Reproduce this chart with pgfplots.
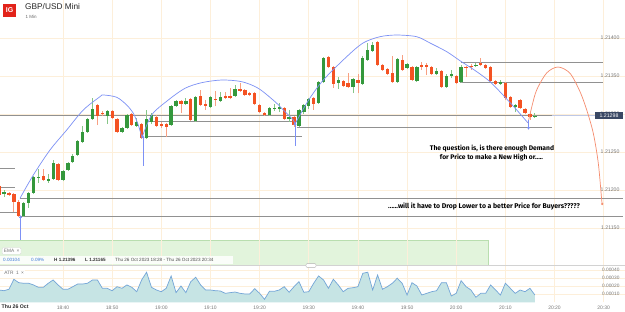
\documentclass[border=0pt]{standalone}
\usepackage{pgfplots}
\pgfplotsset{compat=1.18}
\usepackage{pgfplotstable}
\usepackage{fontspec}
\setmainfont{Liberation Sans}
\newfontfamily\comic{Fira Sans}
\definecolor{gridc}{RGB}{253,239,218}
\definecolor{upc}{RGB}{52,152,60}
\definecolor{dnc}{RGB}{244,82,34}
\definecolor{upw}{RGB}{135,198,135}
\definecolor{dnw}{RGB}{248,160,130}
\definecolor{arcb}{RGB}{125,145,245}
\definecolor{arco}{RGB}{245,140,110}
\definecolor{linec}{RGB}{145,145,145}
\definecolor{tickc}{RGB}{120,120,120}
\definecolor{pricebox}{RGB}{58,72,100}
\definecolor{priceline}{RGB}{190,200,230}
\definecolor{atrfill}{RGB}{198,228,228}
\definecolor{atrline}{RGB}{115,165,215}
\definecolor{boxgreen}{RGB}{226,244,220}
\definecolor{boxgreenb}{RGB}{185,222,175}
\definecolor{igred}{RGB}{226,35,26}
\definecolor{infoblue}{RGB}{60,120,216}
\newcommand\fs[1]{\fontsize{#1}{#1}\selectfont}

\pgfplotstableread{
m o h l c
28 1.211947 1.212000 1.211908 1.211974
32 1.211660 1.211842 1.211650 1.211829
33 1.211829 1.211974 1.211763 1.211961
34 1.211961 1.212184 1.211947 1.212171
35 1.212158 1.212276 1.212092 1.212171
37 1.212118 1.212211 1.212092 1.212145
38 1.212145 1.212395 1.212132 1.212355
40 1.212132 1.212263 1.212118 1.212250
41 1.212263 1.212368 1.212250 1.212355
42 1.212368 1.212474 1.212355 1.212447
43 1.212461 1.212658 1.212447 1.212645
44 1.212632 1.212842 1.212618 1.212763
45 1.212763 1.212947 1.212750 1.212934
46 1.212934 1.213211 1.212921 1.213066
49 1.212974 1.213053 1.212868 1.213039
52 1.212763 1.212829 1.212750 1.212816
53 1.212816 1.213000 1.212803 1.212987
55 1.212842 1.212947 1.212829 1.212895
57 1.212684 1.213053 1.212671 1.212934
58 1.212895 1.213013 1.212868 1.212987
62 1.212855 1.213118 1.212842 1.213105
63 1.213105 1.213184 1.213092 1.213171
65 1.213132 1.213211 1.213118 1.213171
67 1.212908 1.213237 1.212895 1.213224
70 1.213092 1.213237 1.213079 1.213224
72 1.213171 1.213289 1.213158 1.213224
75 1.213237 1.213382 1.213224 1.213329
82 1.212987 1.213092 1.212974 1.213079
83 1.213066 1.213132 1.213039 1.213079
84 1.213066 1.213145 1.213026 1.213092
86 1.212934 1.213053 1.212895 1.212961
88 1.212842 1.213066 1.212829 1.213053
89 1.213026 1.213132 1.213000 1.213118
90 1.213105 1.213211 1.213066 1.213197
92 1.213145 1.213434 1.213132 1.213421
93 1.213421 1.213750 1.213408 1.213737
96 1.213408 1.213487 1.213329 1.213447
99 1.213355 1.213474 1.213276 1.213461
101 1.213395 1.213763 1.213382 1.213737
102 1.213711 1.213934 1.213697 1.213842
103 1.213829 1.213947 1.213816 1.213908
108 1.213421 1.213737 1.213408 1.213724
110 1.213605 1.213671 1.213592 1.213658
112 1.213434 1.213632 1.213421 1.213618
116 1.213526 1.213605 1.213513 1.213566
118 1.213355 1.213526 1.213342 1.213500
119 1.213500 1.213579 1.213474 1.213526
121 1.213421 1.213645 1.213408 1.213618
124 1.213632 1.213671 1.213618 1.213645
129 1.213395 1.213447 1.213382 1.213421
132 1.213092 1.213132 1.213026 1.213118
136 1.212961 1.213013 1.212947 1.212980
}\greenT

\pgfplotstableread{
m o h l c
27 1.212053 1.212079 1.211908 1.211934
29 1.211961 1.211974 1.211921 1.211934
30 1.211947 1.211961 1.211711 1.211842
31 1.211842 1.211868 1.211650 1.211660
36 1.212184 1.212276 1.212118 1.212132
39 1.212342 1.212355 1.212118 1.212132
47 1.213118 1.213132 1.212855 1.212974
48 1.213013 1.213039 1.212974 1.213000
50 1.213039 1.213053 1.212934 1.212947
51 1.212934 1.212947 1.212750 1.212763
54 1.213000 1.213013 1.212842 1.212855
56 1.212868 1.212882 1.212671 1.212684
59 1.212961 1.212987 1.212829 1.212842
60 1.212868 1.212895 1.212816 1.212842
61 1.212868 1.212882 1.212697 1.212829
64 1.213171 1.213184 1.213013 1.213132
66 1.213197 1.213211 1.212908 1.212921
68 1.213237 1.213316 1.213105 1.213118
69 1.213132 1.213184 1.213053 1.213105
71 1.213197 1.213303 1.213105 1.213184
73 1.213237 1.213289 1.213197 1.213211
74 1.213237 1.213342 1.213197 1.213211
76 1.213329 1.213408 1.213289 1.213303
77 1.213316 1.213329 1.213237 1.213250
78 1.213276 1.213289 1.213237 1.213250
79 1.213276 1.213289 1.213118 1.213132
80 1.213118 1.213132 1.213013 1.213026
81 1.213013 1.213026 1.212974 1.212987
85 1.213079 1.213092 1.212921 1.212934
87 1.212961 1.212974 1.212829 1.212855
91 1.213211 1.213224 1.213053 1.213132
94 1.213750 1.213763 1.213605 1.213618
95 1.213618 1.213632 1.213342 1.213395
97 1.213434 1.213447 1.213355 1.213368
98 1.213408 1.213539 1.213342 1.213355
100 1.213447 1.213526 1.213276 1.213408
104 1.213947 1.213960 1.213632 1.213645
105 1.213645 1.213658 1.213566 1.213579
106 1.213592 1.213605 1.213513 1.213526
107 1.213539 1.213763 1.213408 1.213421
109 1.213711 1.213776 1.213566 1.213579
111 1.213618 1.213632 1.213434 1.213447
113 1.213645 1.213684 1.213579 1.213618
114 1.213645 1.213671 1.213513 1.213618
115 1.213618 1.213632 1.213513 1.213526
117 1.213566 1.213579 1.213342 1.213355
120 1.213500 1.213513 1.213395 1.213408
122 1.213618 1.213632 1.213487 1.213605
123 1.213632 1.213658 1.213579 1.213618
125 1.213671 1.213737 1.213632 1.213645
126 1.213645 1.213658 1.213592 1.213605
127 1.213618 1.213632 1.213421 1.213434
128 1.213434 1.213447 1.213382 1.213395
130 1.213408 1.213421 1.213184 1.213211
131 1.213224 1.213237 1.213079 1.213092
133 1.213184 1.213197 1.213066 1.213079
134 1.213066 1.213079 1.213000 1.213013
135 1.213000 1.213013 1.212921 1.212961
}\redT

\pgfplotstableread{
m a
27 0.000153
28 0.000144
29 0.000162
30 0.000285
31 0.000243
32 0.000236
33 0.000236
34 0.000215
35 0.000186
36 0.000186
37 0.000236
38 0.000277
39 0.000215
40 0.000162
41 0.000162
42 0.000194
43 0.000227
44 0.000227
45 0.000236
46 0.000277
47 0.000277
48 0.000174
49 0.000174
50 0.000144
51 0.000194
52 0.000174
53 0.000215
54 0.000186
55 0.000132
56 0.000277
57 0.000372
58 0.000186
59 0.000153
60 0.000132
61 0.000174
62 0.000326
63 0.000120
64 0.000202
65 0.000120
66 0.000256
67 0.000310
68 0.000215
69 0.000153
70 0.000153
71 0.000144
72 0.000141
73 0.000112
74 0.000120
75 0.000128
76 0.000112
77 0.000104
78 0.000104
79 0.000169
80 0.000112
81 0.000038
82 0.000137
83 0.000137
84 0.000153
85 0.000194
86 0.000125
87 0.000194
88 0.000256
89 0.000125
90 0.000132
91 0.000236
92 0.000326
93 0.000277
94 0.000174
95 0.000285
96 0.000215
97 0.000132
98 0.000174
99 0.000181
100 0.000194
101 0.000359
102 0.000372
103 0.000153
104 0.000338
105 0.000162
106 0.000194
107 0.000236
108 0.000298
109 0.000236
110 0.000091
111 0.000243
112 0.000202
113 0.000091
114 0.000112
115 0.000132
116 0.000144
117 0.000243
118 0.000243
119 0.000079
120 0.000112
121 0.000268
122 0.000194
123 0.000153
124 0.000063
125 0.000112
126 0.000112
127 0.000215
128 0.000153
129 0.000091
130 0.000236
131 0.000174
132 0.000112
133 0.000153
134 0.000132
135 0.000174
136 0.000091
}\atrT

\newcommand\candles[4]{%
  \pgfplotsforeachungrouped \ci in {0,...,#2}{%
    \pgfplotstablegetelem{\ci}{m}\of#1\let\candM\pgfplotsretval
    \pgfplotstablegetelem{\ci}{o}\of#1\let\candO\pgfplotsretval
    \pgfplotstablegetelem{\ci}{h}\of#1\let\candH\pgfplotsretval
    \pgfplotstablegetelem{\ci}{l}\of#1\let\candL\pgfplotsretval
    \pgfplotstablegetelem{\ci}{c}\of#1\let\candC\pgfplotsretval
    \edef\candtmp{%
      \noexpand\addplot[#3, line width=0.8pt, forget plot] coordinates {(\candM,\candL) (\candM,\candH)};%
      \noexpand\addplot[#4, line width=3.3pt, forget plot] coordinates {(\candM,\candO) (\candM,\candC)};%
    }%
    \candtmp
  }%
}

\begin{document}
\begin{tikzpicture}
\fill[white] (0pt,0pt) rectangle (625pt,312pt);
\fill[boxgreen] (0pt,47pt) rectangle (488pt,72pt);
\draw[boxgreenb, line width=0.7pt] (0pt,72pt) -- (488pt,72pt) -- (488pt,47pt);

\begin{axis}[at={(0pt,47pt)}, anchor=south west, scale only axis,
  width=625pt, height=265pt,
  xmin=27.18, xmax=154.34, ymin=1.211013, ymax=1.2145,
  axis line style={draw=none}, tick style={draw=none},
  scaled y ticks=false, scaled x ticks=false,
  xtick={40,50,60,70,80,90,100,110,120,130,140,150}, xticklabels={},
  ytick={1.2115,1.212,1.2125,1.213,1.2135,1.214},
  yticklabels={1.21150,1.21200,1.21250,1.21300,1.21350,1.21400},
  yticklabel pos=right,
  yticklabel style={anchor=east, xshift=-2pt, font=\fs{5.2}, text=tickc},
  grid=major, major grid style={gridc, line width=0.6pt}]

\addplot[priceline, line width=0.5pt] coordinates {(27.18,1.21298) (151,1.21298)};

\addplot[linec, line width=0.8pt] coordinates {(120.97,1.213684) (149.86,1.213684)};
\addplot[linec, line width=0.8pt] coordinates {(120.77,1.213417) (149.86,1.213417)};
\addplot[linec, line width=0.8pt] coordinates {(27.18,1.212987) (139.49,1.212987)};
\addplot[linec, line width=0.8pt] coordinates {(56.68,1.212899) (88.22,1.212899)};
\addplot[linec, line width=0.8pt] coordinates {(56.68,1.212701) (88.63,1.212701)};
\addplot[linec, line width=0.8pt] coordinates {(87.61,1.212822) (139.49,1.212822)};
\addplot[linec, line width=0.8pt] coordinates {(27.18,1.212290) (30.23,1.212290)};
\addplot[linec, line width=0.8pt] coordinates {(27.18,1.212040) (30.23,1.212040)};
\addplot[linec, line width=0.8pt] coordinates {(27.18,1.211711) (30.64,1.211711)};
\addplot[linec, line width=0.8pt] coordinates {(31.25,1.211888) (153.93,1.211888)};
\addplot[linec, line width=0.8pt] coordinates {(31.25,1.211649) (153.93,1.211649)};

\candles{\greenT}{51}{upw}{upc}
\candles{\redT}{57}{dnw}{dnc}

\addplot[arcb, line width=0.7pt, smooth] coordinates {
(31.25,1.211891) (33.96,1.212197) (37.35,1.212526) (40.75,1.212789) (44.13,1.213053)
(47.53,1.213228) (48.20,1.213250) (50.92,1.213220) (52.96,1.213118) (54.30,1.213009)
(55.32,1.212855) (56.01,1.212701)};
\addplot[arcb, line width=0.7pt, smooth] coordinates {
(56.01,1.212680) (58.04,1.212987) (61.42,1.213184) (64.82,1.213338) (68.22,1.213412)
(72.29,1.213447) (76.36,1.213425) (79.73,1.213338) (83.13,1.213162) (84.82,1.213053)
(86.85,1.212921) (87.20,1.212868)};
\addplot[arcb, line width=0.7pt, smooth] coordinates {
(87.20,1.212868) (89.85,1.213171) (92.96,1.213447) (97.72,1.213754) (101.04,1.213934)
(104.49,1.214017) (107.89,1.214039) (111.96,1.214017) (114.67,1.213934) (118.07,1.213820)
(120.77,1.213701) (124.17,1.213557) (126.87,1.213425) (129.52,1.213250) (132.31,1.213053)
(134.61,1.212882)};
\addplot[arco, line width=0.7pt, smooth] coordinates {
(134.61,1.212882) (135.42,1.213105) (136.37,1.213316) (138.41,1.213540) (140.71,1.213618)
(143.15,1.213536) (145.19,1.213293) (146.55,1.213053) (147.89,1.212746) (148.91,1.212351)
(149.60,1.211868) (149.72,1.211816)};
\addplot[arco, only marks, mark=*, mark size=0.9pt] coordinates {(149.72,1.211816)};

\addplot[arcb, line width=0.7pt] coordinates {(31.35,1.211342) (31.35,1.211645)};
\addplot[arcb, line width=0.7pt] coordinates {(56.27,1.212316) (56.27,1.212697)};
\addplot[arcb, line width=0.7pt] coordinates {(87.20,1.212579) (87.20,1.212868)};
\addplot[arcb, line width=0.7pt] coordinates {(134.71,1.212921) (134.71,1.212816)};
\addplot[arcb, only marks, mark=triangle*, mark size=1.3pt] coordinates {(31.35,1.211645) (56.27,1.212697) (87.20,1.212868)};
\addplot[arcb, only marks, mark=triangle*, mark size=1.3pt, mark options={rotate=180}] coordinates {(134.71,1.212816)};
\end{axis}

\begin{axis}[at={(0pt,9.6pt)}, anchor=south west, scale only axis,
  width=625pt, height=36pt,
  xmin=27.18, xmax=154.34, ymin=0, ymax=0.000444,
  axis line style={draw=none}, tick style={draw=none},
  scaled y ticks=false, scaled x ticks=false,
  xtick={40,50,60,70,80,90,100,110,120,130,140,150},
  xticklabels={18:40,18:50,19:00,19:10,19:20,19:30,19:40,19:50,20:00,20:10,20:20,20:30},
  xticklabel style={font=\fs{5}, text=tickc},
  ytick={0.0001,0.0002,0.0003,0.0004},
  yticklabels={0.00010,0.00020,0.00030,0.00040},
  yticklabel pos=right,
  yticklabel style={anchor=east, xshift=-2pt, font=\fs{4.8}, text=tickc},
  grid=major, major grid style={gridc, line width=0.6pt}]
\addplot[fill=atrfill, draw=none] table[x=m, y=a] {\atrT} \closedcycle;
\addplot[atrline, line width=0.7pt] table[x=m, y=a] {\atrT};
\end{axis}

\draw[gray!35, line width=0.8pt] (0pt,46.5pt) -- (625pt,46.5pt);
\draw[gray!60, fill=white, rounded corners=1pt, line width=0.4pt] (306pt,44.6pt) rectangle (316pt,48.4pt);

\fill[igred] (3.3pt,295.3pt) rectangle (16pt,308pt);
\node[text=white, font=\bfseries\fs{7}, inner sep=0pt] at (9.65pt,301.5pt) {IG};
\node[anchor=west, inner sep=0pt, font=\fs{8.3}, text=black!85] at (25pt,305pt) {GBP/USD Mini};
\node[anchor=west, inner sep=0pt, font=\fs{4.5}, text=black!60] at (25.5pt,295.3pt) {1 Min};

\node[fill=pricebox, text=white, font=\fs{5.2}, inner sep=0pt, minimum width=28pt, minimum height=7pt] at (609pt,196.5pt) {1.21298};

\node[font=\comic\bfseries\fs{6.7}, inner sep=0pt] at (492pt,163.5pt) {The question is, is there enough Demand};
\node[font=\comic\bfseries\fs{6.7}, inner sep=0pt] at (491.5pt,154.5pt) {for Price to make a New High or.....};
\node[anchor=west, font=\comic\bfseries\fs{6.9}, inner sep=0pt] at (388pt,105.5pt) {......will it have to Drop Lower to a better Price for Buyers?????};

\node[draw=gray!30, fill=white, rounded corners=1pt, anchor=west, inner sep=1.6pt, font=\fs{4.8}, text=black!55] at (2pt,61pt) {EMA\enspace×};
\fill[white, opacity=0.85] (0pt,48pt) rectangle (233pt,55.5pt);
\node[anchor=west, inner sep=0pt, font=\fs{4.6}, text=infoblue] at (3pt,51.8pt) {0.00104};
\node[anchor=west, inner sep=0pt, font=\fs{4.6}, text=infoblue] at (31pt,51.8pt) {0.09\%};
\node[anchor=west, inner sep=0pt, font=\bfseries\fs{4.6}, text=black!80] at (54pt,51.8pt) {H 1.21396};
\node[anchor=west, inner sep=0pt, font=\bfseries\fs{4.6}, text=black!80] at (85pt,51.8pt) {L 1.21165};
\node[anchor=west, inner sep=0pt, font=\fs{4.6}, text=black!70] at (115pt,51.8pt) {Thu 26 Oct 2023 18:28 - Thu 26 Oct 2023 20:34};

\node[fill=white, fill opacity=0.85, text opacity=1, anchor=west, inner sep=1.2pt, font=\fs{4.8}, text=black!55] at (3pt,39pt) {ATR\enspace 1\enspace ×};

\node[anchor=west, inner sep=0pt, font=\bfseries\fs{5.2}, text=black!85] at (1.5pt,5pt) {Thu 26 Oct};

\pgfresetboundingbox
\useasboundingbox (0pt,0pt) rectangle (625pt,312pt);
\end{tikzpicture}
\end{document}
